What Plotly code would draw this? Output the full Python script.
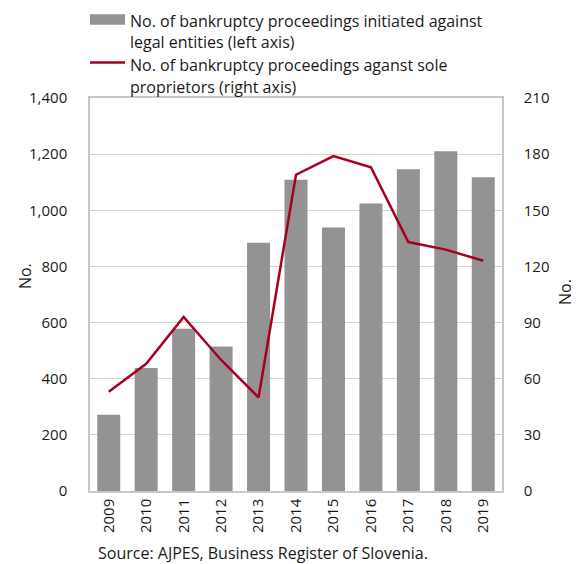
import plotly.graph_objects as go

years = ["2009", "2010", "2011", "2012", "2013", "2014", "2015", "2016", "2017", "2018", "2019"]
legal_entities = [272, 438, 578, 515, 884, 1109, 939, 1024, 1146, 1210, 1118]
sole_proprietors = [53, 68, 93, 70, 50, 169, 179, 173, 133, 129, 123]
left_ticks = [0, 200, 400, 600, 800, 1000, 1200, 1400]
left_tick_text = ["0", "200", "400", "600", "800", "1,000", "1,200", "1,400"]
right_ticks = [0, 30, 60, 90, 120, 150, 180, 210]
legend_lines = [
    "No. of bankruptcy proceedings initiated against",
    "legal entities (left axis)",
    "No. of bankruptcy proceedings aganst sole",
    "proprietors (right axis)",
]
axis_title = "No."
source_text = "Source: AJPES, Business Register of Slovenia."

FONT = "Open Sans"
TXT = "#1a1a1a"
OFF = 8  # page body margin
W, H = 579 - OFF, 564 - OFF
# plot area in screen pixels
L, R, T, B = 90, 502, 97.5, 491.5


def px(x):
    return (x - L) / (R - L)


def py(y):
    return (B - y) / (B - T)


fig = go.Figure()
fig.add_trace(go.Bar(
    x=years, y=legal_entities, name=legend_lines[0],
    marker=dict(color="#939393", line=dict(width=0)), yaxis="y",
))
fig.add_trace(go.Scatter(
    x=years, y=sole_proprietors, name=legend_lines[2],
    mode="lines", line=dict(color="#A50021", width=2.5), yaxis="y2",
))

annotations = []
for txt, yc in zip(legend_lines, [20, 41, 64, 86]):
    annotations.append(dict(
        text=txt, xref="paper", yref="paper", x=px(128), y=py(yc),
        xanchor="left", yanchor="middle", showarrow=False,
        font=dict(family=FONT, size=16, color=TXT),
    ))
annotations.append(dict(
    text=axis_title, xref="paper", yref="paper", x=px(25), y=py(276),
    xanchor="center", yanchor="middle", textangle=-90, showarrow=False,
    font=dict(family=FONT, size=16, color=TXT),
))
annotations.append(dict(
    text=axis_title, xref="paper", yref="paper", x=px(565), y=py(292),
    xanchor="center", yanchor="middle", textangle=-90, showarrow=False,
    font=dict(family=FONT, size=16, color=TXT),
))
annotations.append(dict(
    text=source_text, xref="paper", yref="paper", x=px(96), y=py(554),
    xanchor="left", yanchor="middle", showarrow=False,
    font=dict(family=FONT, size=16, color=TXT),
))

shapes = [
    dict(type="rect", xref="paper", yref="paper", x0=px(90), x1=px(125),
         y0=py(24), y1=py(13.5), fillcolor="#939393", line=dict(width=0)),
    dict(type="line", xref="paper", yref="paper", x0=px(90), x1=px(125),
         y0=py(62), y1=py(62), line=dict(color="#A50021", width=2.5)),
]

fig.update_layout(
    width=W, height=H,
    margin=dict(l=L - OFF, r=W - (R - OFF), t=T - OFF, b=H - (B - OFF), autoexpand=False),
    paper_bgcolor="white", plot_bgcolor="white",
    font=dict(family=FONT, size=16, color=TXT),
    bargap=0.386,
    showlegend=False,
    annotations=annotations,
    shapes=shapes,
    xaxis=dict(
        type="category", tickangle=-90, showgrid=False,
        showline=True, linecolor="#c8c8c8", linewidth=1.5, mirror=True,
        ticks="", tickfont=dict(size=15), automargin=False,
    ),
    yaxis=dict(
        range=[0, 1400], tickvals=left_ticks, ticktext=left_tick_text,
        showgrid=True, gridcolor="#d4d4d4", gridwidth=1.2,
        showline=True, linecolor="#c8c8c8", linewidth=1.5,
        ticks="", zeroline=False, ticklabelstandoff=18,
        tickfont=dict(size=15), automargin=False,
    ),
    yaxis2=dict(
        range=[0, 210], tickvals=right_ticks, overlaying="y", side="right",
        showgrid=False, showline=True, linecolor="#c8c8c8", linewidth=1.5,
        ticks="", zeroline=False, ticklabelstandoff=17,
        tickfont=dict(size=15), automargin=False,
    ),
)

fig.write_html("out.html")
